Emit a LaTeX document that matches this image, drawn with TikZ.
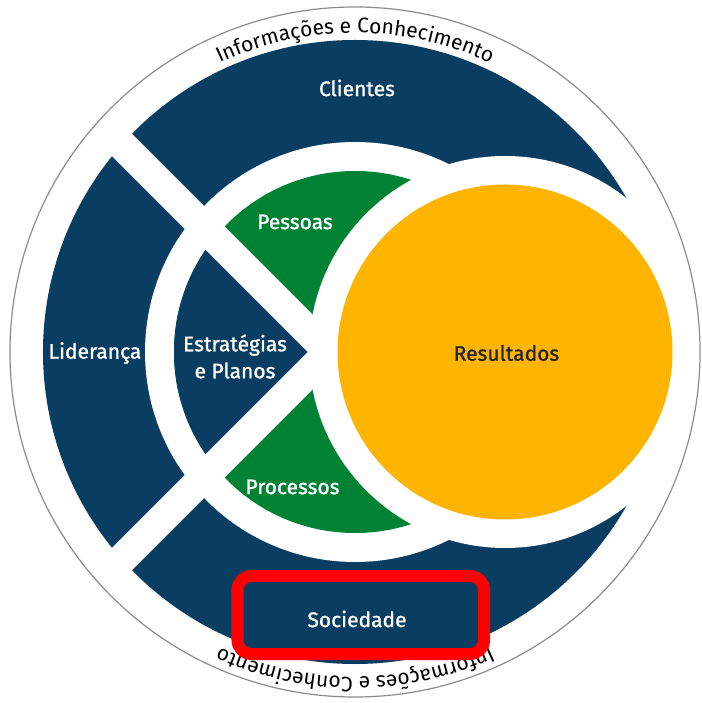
\documentclass[tikz,border=0pt]{standalone}
\usepackage{fontspec}
\setmainfont{Fira Sans}
\newfontface\medface{Fira Sans}[FakeBold=1.2]
\usetikzlibrary{decorations.text}
\definecolor{navy}{HTML}{0A3D62}
\definecolor{leaf}{HTML}{008234}
\definecolor{gold}{HTML}{FFB400}
\newcommand{\lblfont}{\medface\fontsize{21}{27}\selectfont}
\newcommand{\arcfont}{\fontsize{21}{22}\selectfont}

\begin{document}
\begin{tikzpicture}[x=1pt,y=1pt,
    lbl/.style={text=white,font=\lblfont,align=center},
    gap/.style={white,line width=30pt},
    arctext/.style={decorate,decoration={text along path,text align=center,
        text={|\arcfont|Informações e Conhecimento}}}]
    \useasboundingbox (-355,-351) rectangle (346,352);
    \fill[white] (-355,-351) rectangle (346,352);

    \fill[navy] (0,0) circle[radius=312pt];
    \fill[white] (0,0) circle[radius=210pt];
    \fill[leaf] (0,0) circle[radius=181pt];
    \coordinate (cross) at (-26,0);
    \begin{scope}
        \clip (0,0) circle[radius=181pt];
        \fill[navy] (cross) -- ++(135:300) -- ++(0,-424) -- cycle;
    \end{scope}
    \foreach \a in {135,225}
    {
        \draw[gap] (cross) ++({\a+180}:100) -- ++(\a:420);
    }

    \coordinate (res) at (150,0);
    \fill[white] (res) circle[radius=196pt];
    \fill[gold] (res) circle[radius=167.5pt];

    \draw[black!45,line width=1.2pt] (0,0) circle[radius=345pt];
    \path[arctext] (150:319) arc[start angle=150,end angle=30,radius=319pt];
    \path[arctext] (-30:325) arc[start angle=-30,end angle=-150,radius=325pt];

    \draw[red,fill=navy,line width=12pt,rounded corners=14pt] (-117.5,-224) rectangle (129,-302);

    \node[lbl] (clientes) at (2,264) {Clientes};
    \node[lbl] (lideranca) at (-260,-1) {Liderança};
    \node[lbl] (estrategias) at (-120,-4.5) {Estratégias\\e Planos};
    \node[lbl] (pessoas) at (-60,130) {Pessoas};
    \node[lbl] (processos) at (-62.5,-135) {Processos};
    \node[lbl,text=black!85] (resultados) at (151.5,-1) {Resultados};
    \node[lbl] (sociedade) at (2,-267) {Sociedade};
\end{tikzpicture}
\end{document}
